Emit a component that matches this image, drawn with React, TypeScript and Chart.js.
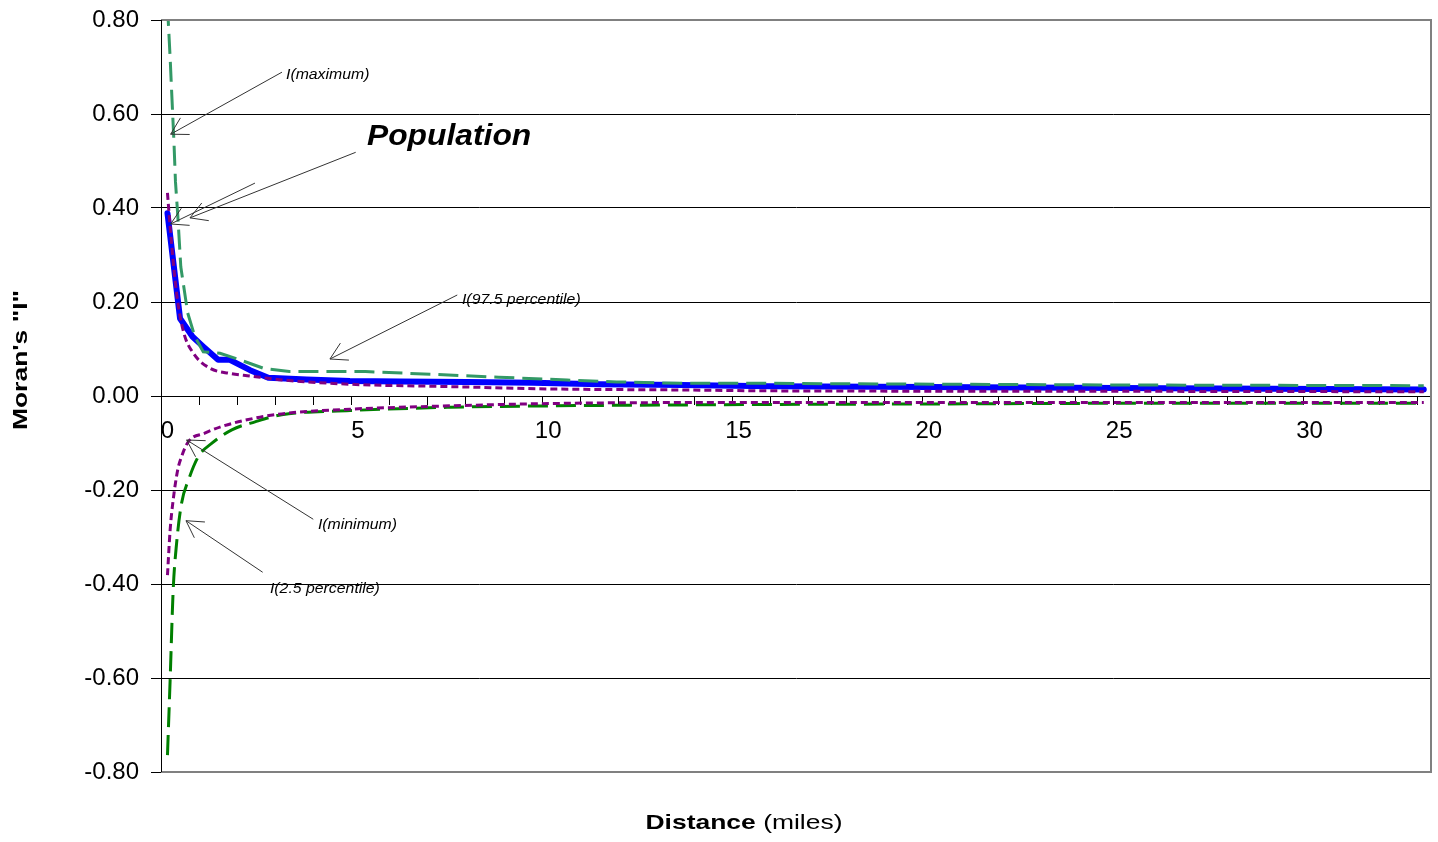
import React, { useEffect, useRef } from 'react';
import { Chart, registerables } from 'chart.js';

Chart.register(...registerables);

// ---- Data ----
const popX = [0.0, 0.33, 0.66, 0.94, 1.33, 1.64, 2.17, 2.65, 3.66, 4.79, 6.1, 7.86, 9.6, 11.36, 13.5, 15.8, 20, 25, 33];
const popY = [0.389, 0.165, 0.126, 0.105, 0.077, 0.077, 0.055, 0.039, 0.035, 0.032, 0.031, 0.030, 0.028, 0.025, 0.0234, 0.021, 0.019, 0.017, 0.014];

const maxX = [0.0, 0.07, 0.11, 0.17, 0.21, 0.27, 0.35, 0.53, 0.72, 0.94, 1.38, 1.9, 2.52, 3.2, 3.9, 5.2, 7.0, 8.7, 10.5, 11.8, 13.5, 15.7, 19.0, 25.0, 33.0];
const maxY = [0.83, 0.72, 0.647, 0.541, 0.456, 0.385, 0.275, 0.177, 0.126, 0.094, 0.091, 0.077, 0.059, 0.052, 0.052, 0.052, 0.046, 0.040, 0.034, 0.030, 0.027, 0.027, 0.0255, 0.0234, 0.022];

const p975X = [0.0, 0.07, 0.24, 0.42, 0.68, 1.12, 1.64, 2.17, 3.04, 4.79, 7.42, 10.05, 13.5, 15.8, 25, 33];
const p975Y = [0.432, 0.36, 0.218, 0.137, 0.091, 0.059, 0.048, 0.0426, 0.034, 0.025, 0.020, 0.015, 0.0128, 0.011, 0.010, 0.009];

const minX = [0.0, 0.07, 0.15, 0.27, 0.37, 0.55, 0.98, 1.42, 2.3, 3.09, 4.8, 7.42, 10.05, 13.5, 20, 33];
const minY = [-0.381, -0.285, -0.221, -0.157, -0.129, -0.097, -0.079, -0.065, -0.047, -0.037, -0.028, -0.021, -0.016, -0.014, -0.014, -0.014];

const p25X = [0.0, 0.07, 0.15, 0.24, 0.37, 0.55, 0.81, 1.16, 1.69, 2.3, 3.0, 4.8, 7.42, 10.05, 13.5, 15.8, 20, 25, 33];
const p25Y = [-0.764, -0.604, -0.413, -0.313, -0.228, -0.179, -0.129, -0.101, -0.072, -0.055, -0.040, -0.031, -0.024, -0.021, -0.019, -0.018, -0.017, -0.0156, -0.0156];

const xLabels = [0, 5, 10, 15, 20, 25, 30];
const xMinorStart = 0.84;
const xMinorCount = 33;
const yTicks = [-0.8, -0.6, -0.4, -0.2, 0, 0.2, 0.4, 0.6, 0.8];

const X_MIN = -0.17;
const X_MAX = 33.19;

// annotations in data units: text position and arrows [tailX, tailY, tipX, tipY]
const annotations = [
  { text: 'I(maximum)', x: 3.113, y: 0.675, arrows: [[3.008, 0.689, 0.084, 0.557]] },
  { text: 'I(97.5 percentile)', x: 7.736, y: 0.195, arrows: [[7.612, 0.2149, 4.268, 0.0787]] },
  { text: 'I(minimum)', x: 3.953, y: -0.2826, arrows: [[3.83, -0.2623, 0.504, -0.0936]] },
  { text: 'I(2.5 percentile)', x: 2.692, y: -0.419, arrows: [[2.501, -0.375, 0.486, -0.2653]] },
];
const popLabel = { text: 'Population', x: 5.24, y: 0.534, arrows: [[4.944, 0.5185, 0.591, 0.379], [2.298, 0.453, 0.084, 0.366]] };

const toPts = (xs: number[], ys: number[]) => xs.map((x, i) => ({ x, y: ys[i] }));

function drawStretched(ctx: CanvasRenderingContext2D, text: string, x: number, y: number, font: string, sx: number) {
  ctx.save();
  ctx.translate(x, y);
  ctx.scale(sx, 1);
  ctx.font = font;
  ctx.textAlign = 'left';
  ctx.textBaseline = 'alphabetic';
  ctx.fillStyle = '#000';
  ctx.fillText(text, 0, 0);
  ctx.restore();
}

function drawArrow(ctx: CanvasRenderingContext2D, x1: number, y1: number, x2: number, y2: number) {
  ctx.save();
  ctx.strokeStyle = '#333';
  ctx.lineWidth = 1;
  ctx.beginPath();
  ctx.moveTo(x1, y1);
  ctx.lineTo(x2, y2);
  const ang = Math.atan2(y1 - y2, x1 - x2);
  const L = 19;
  const h = Math.PI / 6;
  ctx.moveTo(x2 + L * Math.cos(ang + h), y2 + L * Math.sin(ang + h));
  ctx.lineTo(x2, y2);
  ctx.lineTo(x2 + L * Math.cos(ang - h), y2 + L * Math.sin(ang - h));
  ctx.stroke();
  ctx.restore();
}

const decorPlugin = {
  id: 'decor',
  afterDatasetsDraw(chart: any) {
    const { ctx, chartArea } = chart;
    ctx.save();
    ctx.strokeStyle = '#808080';
    ctx.lineWidth = 2;
    ctx.beginPath();
    ctx.moveTo(chartArea.left, chartArea.top);
    ctx.lineTo(chartArea.right, chartArea.top);
    ctx.lineTo(chartArea.right, chartArea.bottom);
    ctx.lineTo(chartArea.left, chartArea.bottom);
    ctx.stroke();
    ctx.strokeStyle = '#000';
    ctx.lineWidth = 1;
    ctx.beginPath();
    ctx.moveTo(chartArea.left + 0.5, chartArea.top);
    ctx.lineTo(chartArea.left + 0.5, chartArea.bottom);
    ctx.stroke();
    ctx.restore();
  },
  afterDraw(chart: any) {
    const { ctx } = chart;
    const xs = chart.scales.x;
    const ys = chart.scales.y;
    const px = (v: number) => xs.getPixelForValue(v);
    const py = (v: number) => ys.getPixelForValue(v);
    const italic = 'italic 14px "Liberation Sans", Arial, sans-serif';
    annotations.forEach((a) => {
      a.arrows.forEach((ar) => drawArrow(ctx, px(ar[0]), py(ar[1]), px(ar[2]), py(ar[3])));
      drawStretched(ctx, a.text, px(a.x), py(a.y), italic, 1.13);
    });
    popLabel.arrows.forEach((ar) => drawArrow(ctx, px(ar[0]), py(ar[1]), px(ar[2]), py(ar[3])));
    drawStretched(ctx, popLabel.text, px(popLabel.x), py(popLabel.y), 'italic bold 30px "Liberation Sans", Arial, sans-serif', 1.06);

    // axis titles
    const sx = 1.26;
    const fb = 'bold 21px "Liberation Sans", Arial, sans-serif';
    const fn = '21px "Liberation Sans", Arial, sans-serif';
    ctx.save();
    ctx.font = fb;
    const w1 = ctx.measureText('Distance').width;
    ctx.font = fn;
    const w2 = ctx.measureText(' (miles)').width;
    ctx.restore();
    const total = (w1 + w2) * sx;
    const cx = 744;
    const by = chart.height - 13;
    drawStretched(ctx, 'Distance', cx - total / 2, by, fb, sx);
    drawStretched(ctx, ' (miles)', cx - total / 2 + w1 * sx, by, fn, sx);

    ctx.save();
    ctx.translate(27, 360);
    ctx.rotate(-Math.PI / 2);
    ctx.scale(sx, 1);
    ctx.font = fb;
    ctx.textAlign = 'center';
    ctx.textBaseline = 'alphabetic';
    ctx.fillStyle = '#000';
    ctx.fillText('Moran\'s "I"', 0, 0);
    ctx.restore();
  },
};

export default function App() {
  const ref = useRef<HTMLCanvasElement | null>(null);
  useEffect(() => {
    if (!ref.current) return;
    const tickFont = { family: '"Liberation Sans", Arial, sans-serif', size: 24 };
    const chart = new Chart(ref.current, {
      type: 'line',
      data: {
        datasets: [
          { label: 'I(minimum)', data: toPts(minX, minY), borderColor: '#800080', borderWidth: 3, borderDash: [7, 4], pointRadius: 0, cubicInterpolationMode: 'monotone', fill: false },
          { label: 'upper short', data: toPts(p975X, p975Y), borderColor: '#800080', borderWidth: 3, borderDash: [7, 4], pointRadius: 0, cubicInterpolationMode: 'monotone', fill: false },
          { label: 'I(maximum)', data: toPts(maxX, maxY), borderColor: '#339966', borderWidth: 3, borderDash: [20, 8], pointRadius: 0, tension: 0, fill: false },
          { label: 'I(2.5 percentile)', data: toPts(p25X, p25Y), borderColor: '#008000', borderWidth: 3, borderDash: [20, 8], pointRadius: 0, cubicInterpolationMode: 'monotone', fill: false },
          { label: 'Population', data: toPts(popX, popY), borderColor: '#0000ff', borderWidth: 6, pointRadius: 0, tension: 0, fill: false, borderJoinStyle: 'round', borderCapStyle: 'round' },
        ],
      } as any,
      options: {
        animation: false,
        responsive: false,
        layout: { padding: { left: 0, top: 20, right: 7, bottom: 70 } },
        plugins: { legend: { display: false }, tooltip: { enabled: false }, title: { display: false } },
        scales: {
          x: {
            type: 'linear',
            min: X_MIN,
            max: X_MAX,
            position: { y: 0 } as any,
            afterBuildTicks: (scale: any) => {
              const vals: number[] = [...xLabels];
              for (let k = 0; k < xMinorCount; k++) vals.push(+(xMinorStart + k).toFixed(2));
              vals.sort((a, b) => a - b);
              scale.ticks = vals.map((v) => ({ value: v }));
            },
            afterFit: (scale: any) => {
              scale.paddingLeft = 0;
              scale.paddingRight = 0;
            },
            ticks: {
              autoSkip: false,
              maxRotation: 0,
              minRotation: 0,
              padding: 13,
              color: '#000',
              font: tickFont,
              callback: (v: any) => (xLabels.includes(v) ? String(v) : ''),
            },
            grid: {
              drawOnChartArea: false,
              drawTicks: true,
              tickLength: 8,
              tickColor: (c: any) => (c.tick && xLabels.includes(c.tick.value) ? 'rgba(0,0,0,0)' : '#000'),
            },
            border: { display: true, color: '#000', width: 1 },
          },
          y: {
            type: 'linear',
            min: -0.8,
            max: 0.8,
            afterBuildTicks: (scale: any) => {
              scale.ticks = yTicks.map((v) => ({ value: v }));
            },
            afterFit: (scale: any) => {
              scale.width = 161;
              scale.paddingTop = 0;
              scale.paddingBottom = 0;
            },
            ticks: {
              padding: 12,
              color: '#000',
              font: tickFont,
              callback: (v: any) => Number(v).toFixed(2),
            },
            grid: {
              color: (c: any) => (c.tick && Math.abs(c.tick.value) > 0.79 ? 'rgba(0,0,0,0)' : '#000'),
              tickColor: '#000',
              tickLength: 10,
              lineWidth: 1,
            },
            border: { display: true, color: '#000', width: 1 },
          },
        },
      } as any,
      plugins: [decorPlugin],
    });
    return () => chart.destroy();
  }, []);
  return (
    <div style={{ position: 'absolute', left: 0, top: 0, width: 1438, height: 842, background: '#fff' }}>
      <canvas ref={ref} width={1438} height={842} style={{ display: 'block' }} />
    </div>
  );
}
